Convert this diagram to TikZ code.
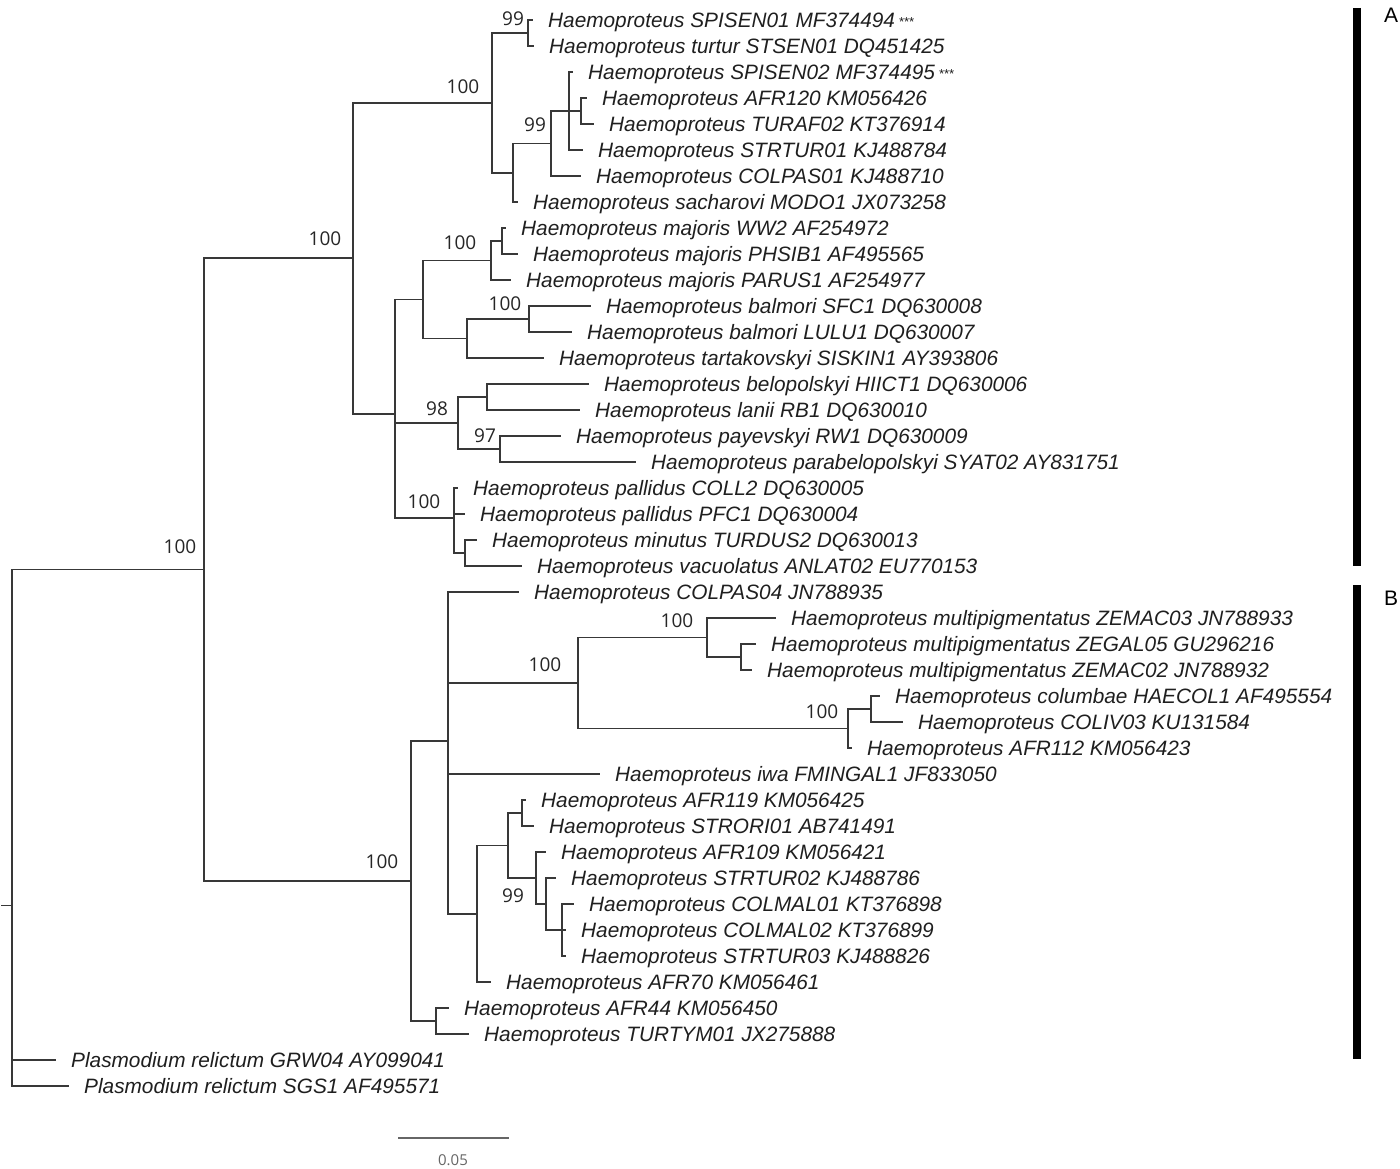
\documentclass[tikz,border=0pt]{standalone}
\usepackage{fontspec}
\setmainfont{Liberation Sans}
\newfontfamily\bsfont{Open Sans}
\newcommand\mystars{\,{\fontsize{13}{13}\selectfont\raisebox{1pt}{***}}}
\begin{document}
\begin{tikzpicture}[x=1pt,y=-1pt,
  br/.style={line width=1.8pt, draw=black!78},
  leaf/.style={anchor=base west, inner sep=0pt, text=black!88, font=\fontsize{20.8}{24}\selectfont\itshape, yshift=-7.2pt},
  bs/.style={inner sep=0pt, text=black!85, font=\bsfont\fontsize{19}{21}\selectfont},
  clade/.style={line width=8pt, draw=black},
  cladelab/.style={anchor=center, inner sep=0pt, font=\fontsize{21}{24}\selectfont}
]
\useasboundingbox (0,0) rectangle (1400,1169);
\fill[white] (0,0) rectangle (1400,1169);

% internal nodes
\coordinate (root) at (12,905.2);
\coordinate (H) at (204,569.5);
\coordinate (A) at (353,258.2);
\coordinate (nA1) at (492,102.9);
\coordinate (P1) at (528,33);
\coordinate (N2) at (513,172.75);
\coordinate (N3) at (551,143.5);
\coordinate (N4) at (569,111);
\coordinate (N5) at (581,111);
\coordinate (nA2) at (395,413.6);
\coordinate (nA3) at (423,299.5);
\coordinate (MJ) at (491,260.5);
\coordinate (MJ2) at (502,241);
\coordinate (nA6) at (467,338.5);
\coordinate (BL) at (529,319);
\coordinate (nA4) at (458,423);
\coordinate (BP) at (487,397);
\coordinate (PY) at (500,449);
\coordinate (nA5) at (454,518.3);
\coordinate (MT) at (465,553);
\coordinate (B) at (411,880.9);
\coordinate (B1) at (448,740.7);
\coordinate (B3) at (578,683);
\coordinate (MP) at (707,637.5);
\coordinate (MP2) at (741,657);
\coordinate (CB) at (848,728.5);
\coordinate (CB2) at (871,709);
\coordinate (B4) at (477,913.75);
\coordinate (B5) at (508,845.5);
\coordinate (B6) at (522,813);
\coordinate (B7) at (536,878);
\coordinate (B8) at (546,904);
\coordinate (B9) at (562,930);
\coordinate (B2) at (436,1021);

% leaves
\foreach \n/\ex/\yy/\txt in {
 L1/533/20/{Haemoproteus SPISEN01 MF374494\mystars},
 L2/534/46/{Haemoproteus turtur STSEN01 DQ451425},
 L3/573/72/{Haemoproteus SPISEN02 MF374495\mystars},
 L4/587/98/{Haemoproteus AFR120 KM056426},
 L5/594/124/{Haemoproteus TURAF02 KT376914},
 L6/583/150/{Haemoproteus STRTUR01 KJ488784},
 L7/581/176/{Haemoproteus COLPAS01 KJ488710},
 L8/518/202/{Haemoproteus sacharovi MODO1 JX073258},
 L9/506/228/{Haemoproteus majoris WW2 AF254972},
 L10/518/254/{Haemoproteus majoris PHSIB1 AF495565},
 L11/511/280/{Haemoproteus majoris PARUS1 AF254977},
 L12/591/306/{Haemoproteus balmori SFC1 DQ630008},
 L13/572/332/{Haemoproteus balmori LULU1 DQ630007},
 L14/544/358/{Haemoproteus tartakovskyi SISKIN1 AY393806},
 L15/589/384/{Haemoproteus belopolskyi HIICT1 DQ630006},
 L16/580/410/{Haemoproteus lanii RB1 DQ630010},
 L17/561/436/{Haemoproteus payevskyi RW1 DQ630009},
 L18/636/462/{Haemoproteus parabelopolskyi SYAT02 AY831751},
 L19/458/488/{Haemoproteus pallidus COLL2 DQ630005},
 L20/465/514/{Haemoproteus pallidus PFC1 DQ630004},
 L21/477/540/{Haemoproteus minutus TURDUS2 DQ630013},
 L22/522/566/{Haemoproteus vacuolatus ANLAT02 EU770153},
 L23/519/592/{Haemoproteus COLPAS04 JN788935},
 L24/776/618/{Haemoproteus multipigmentatus ZEMAC03 JN788933},
 L25/756/644/{Haemoproteus multipigmentatus ZEGAL05 GU296216},
 L26/752/670/{Haemoproteus multipigmentatus ZEMAC02 JN788932},
 L27/880/696/{Haemoproteus columbae HAECOL1 AF495554},
 L28/903/722/{Haemoproteus COLIV03 KU131584},
 L29/852/748/{Haemoproteus AFR112 KM056423},
 L30/600/774/{Haemoproteus iwa FMINGAL1 JF833050},
 L31/526/800/{Haemoproteus AFR119 KM056425},
 L32/534/826/{Haemoproteus STRORI01 AB741491},
 L33/546/852/{Haemoproteus AFR109 KM056421},
 L34/556/878/{Haemoproteus STRTUR02 KJ488786},
 L35/574/904/{Haemoproteus COLMAL01 KT376898},
 L36/566/930/{Haemoproteus COLMAL02 KT376899},
 L37/566/956/{Haemoproteus STRTUR03 KJ488826},
 L38/491/982/{Haemoproteus AFR70 KM056461},
 L39/449/1008/{Haemoproteus AFR44 KM056450},
 L40/469/1034/{Haemoproteus TURTYM01 JX275888},
 L41/56/1060/{Plasmodium relictum GRW04 AY099041},
 L42/69/1086/{Plasmodium relictum SGS1 AF495571}}
{
  \coordinate (\n) at (\ex,\yy);
  \node[leaf] (t\n) at ([xshift=15pt]\n) {\txt};
}

% branches
\foreach \p/\c in {root/H, root/L41, root/L42,
 H/A, H/B,
 A/nA1, A/nA2,
 nA1/P1, nA1/N2, P1/L1, P1/L2,
 N2/N3, N2/L8, N3/N4, N3/L7, N4/L3, N4/N5, N4/L6, N5/L4, N5/L5,
 nA2/nA3, nA2/nA4, nA2/nA5,
 nA3/MJ, nA3/nA6, MJ/MJ2, MJ/L11, MJ2/L9, MJ2/L10, nA6/BL, nA6/L14, BL/L12, BL/L13,
 nA4/BP, nA4/PY, BP/L15, BP/L16, PY/L17, PY/L18,
 nA5/L19, nA5/L20, nA5/MT, MT/L21, MT/L22,
 B/B1, B/B2,
 B1/L23, B1/B3, B1/L30, B1/B4,
 B3/MP, B3/CB, MP/L24, MP/MP2, MP2/L25, MP2/L26, CB/CB2, CB/L29, CB2/L27, CB2/L28,
 B4/B5, B4/L38, B5/B6, B5/B7, B6/L31, B6/L32, B7/L33, B7/B8, B8/L34, B8/B9, B9/L35, B9/L36, B9/L37,
 B2/L39, B2/L40}
{
  \draw[br] (\p) |- (\c);
}
% root tick
\coordinate (rtick) at (1,905.2);
\draw[br, line width=1.2pt] (rtick) -- (root);

% bootstrap values
\node[bs] (b1) at (513,19) {99};
\node[bs] (b2) at (463,87) {100};
\node[bs] (b3) at (535,125) {99};
\node[bs] (b4) at (325,239) {100};
\node[bs] (b5) at (180,547) {100};
\node[bs] (b6) at (460,243) {100};
\node[bs] (b7) at (505,304) {100};
\node[bs] (b8) at (437,409) {98};
\node[bs] (b9) at (485,436) {97};
\node[bs] (b10) at (424,502) {100};
\node[bs] (b11) at (545,665) {100};
\node[bs] (b12) at (677,621) {100};
\node[bs] (b13) at (822,712) {100};
\node[bs] (b14) at (382,862) {100};
\node[bs] (b15) at (513,896) {99};

% clade bars
\coordinate (Atop) at (1357,8);
\coordinate (Abot) at (1357,566);
\coordinate (Btop) at (1357,585);
\coordinate (Bbot) at (1357,1059);
\draw[clade] (Atop) -- (Abot);
\draw[clade] (Btop) -- (Bbot);
\node[cladelab] (labA) at (1391,15) {A};
\node[cladelab] (labB) at (1391,598) {B};

% scale bar
\coordinate (s1) at (398,1138);
\coordinate (s2) at (509,1138);
\draw[line width=2.6pt, draw=black!60] (s1) -- (s2);
\node[inner sep=0pt, text=black!60, font=\bsfont\fontsize{15}{17}\selectfont] (slab) at (453,1160) {0.05};
\end{tikzpicture}
\end{document}
